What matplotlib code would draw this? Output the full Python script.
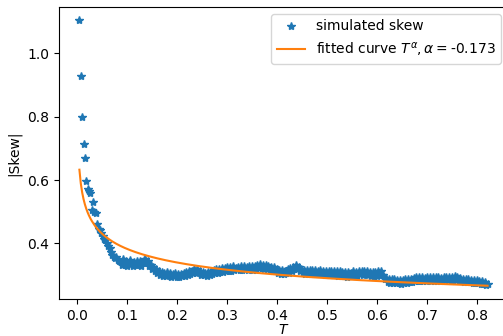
import numpy as np
from matplotlib import pyplot as plt

# day index of each sample, T in years
days = np.arange(2, 301)
skew = [
    1.105, 0.929, 0.800, 0.714, 0.670, 0.598, 0.572, 0.566, 0.560, 0.506,
    0.530, 0.500, 0.497, 0.462, 0.446, 0.441, 0.432, 0.424, 0.414, 0.409,
    0.401, 0.392, 0.386, 0.372, 0.364, 0.358, 0.352, 0.356, 0.348, 0.344,
    0.340, 0.332, 0.349, 0.331, 0.344, 0.329, 0.342, 0.347, 0.333, 0.328,
    0.341, 0.330, 0.345, 0.332, 0.343, 0.328, 0.340, 0.346, 0.350, 0.339,
    0.343, 0.329, 0.331, 0.318, 0.324, 0.314, 0.319, 0.306, 0.313, 0.301,
    0.309, 0.298, 0.306, 0.296, 0.308, 0.299, 0.305, 0.294, 0.303, 0.297,
    0.305, 0.293, 0.304, 0.295, 0.302, 0.296, 0.306, 0.298, 0.309, 0.301,
    0.313, 0.304, 0.311, 0.307, 0.318, 0.306, 0.319, 0.308, 0.313, 0.300,
    0.309, 0.299, 0.307, 0.298, 0.308, 0.301, 0.313, 0.302, 0.315, 0.305,
    0.318, 0.306, 0.320, 0.309, 0.321, 0.310, 0.323, 0.311, 0.325, 0.313,
    0.326, 0.314, 0.327, 0.315, 0.322, 0.318, 0.326, 0.317, 0.328, 0.316,
    0.327, 0.319, 0.326, 0.317, 0.328, 0.318, 0.329, 0.316, 0.328, 0.317,
    0.330, 0.321, 0.333, 0.322, 0.331, 0.320, 0.330, 0.318, 0.329, 0.316,
    0.325, 0.312, 0.324, 0.311, 0.319, 0.305, 0.317, 0.304, 0.315, 0.302,
    0.314, 0.305, 0.318, 0.307, 0.321, 0.312, 0.326, 0.319, 0.332, 0.320,
    0.325, 0.311, 0.319, 0.306, 0.316, 0.304, 0.315, 0.306, 0.316, 0.303,
    0.316, 0.304, 0.317, 0.303, 0.313, 0.302, 0.316, 0.303, 0.314, 0.301,
    0.314, 0.304, 0.313, 0.300, 0.314, 0.301, 0.311, 0.302, 0.312, 0.298,
    0.311, 0.297, 0.310, 0.296, 0.309, 0.295, 0.308, 0.298, 0.307, 0.297,
    0.311, 0.297, 0.308, 0.298, 0.312, 0.303, 0.313, 0.299, 0.314, 0.305,
    0.313, 0.300, 0.310, 0.296, 0.309, 0.295, 0.308, 0.298, 0.314, 0.306,
    0.313, 0.299, 0.300, 0.287, 0.290, 0.278, 0.288, 0.276, 0.287, 0.275,
    0.286, 0.274, 0.285, 0.273, 0.284, 0.272, 0.284, 0.273, 0.286, 0.274,
    0.287, 0.278, 0.287, 0.279, 0.291, 0.280, 0.292, 0.281, 0.293, 0.280,
    0.292, 0.282, 0.291, 0.281, 0.292, 0.283, 0.293, 0.280, 0.292, 0.281,
    0.293, 0.281, 0.294, 0.282, 0.291, 0.283, 0.292, 0.283, 0.293, 0.284,
    0.293, 0.281, 0.294, 0.285, 0.298, 0.284, 0.293, 0.280, 0.289, 0.281,
    0.288, 0.279, 0.287, 0.279, 0.286, 0.277, 0.285, 0.276, 0.284, 0.275,
    0.283, 0.275, 0.282, 0.271, 0.281, 0.270, 0.279, 0.269, 0.271,
]
alpha = -0.173
scale = 0.257

T = days / 365

fig = plt.figure(figsize=(5.03, 3.36), dpi=100)
ax = fig.add_axes([59 / 503, 37 / 336, 449 / 503, 292 / 336])
ax.plot(T, skew, '*', label='simulated skew')
ax.plot(T, scale * T ** alpha, label=r'fitted curve $T^{\alpha}, \alpha=$' + f'{alpha:.3f}')
ax.set_xlabel('$T$', labelpad=0)
ax.set_ylabel('|Skew|')
ax.legend(loc='upper right')
fig.savefig('out.png', dpi=100)
plt.close()
